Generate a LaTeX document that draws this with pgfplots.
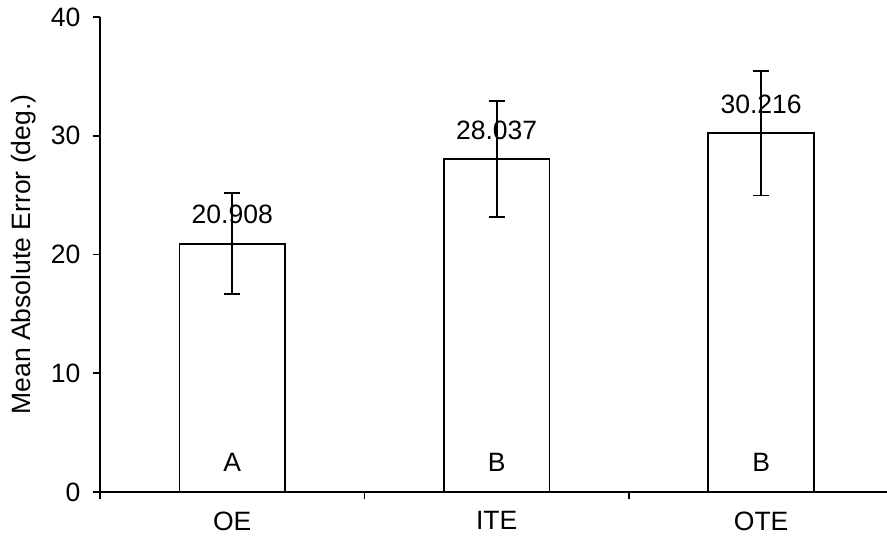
\documentclass[border=0pt]{standalone}
\usepackage{pgfplots}
\pgfplotsset{compat=1.18}
\usepackage{fontspec}
\setmainfont{Liberation Sans}
\begin{document}
\begin{tikzpicture}
\path[use as bounding box] (-75pt,-35.25pt) rectangle (590.25pt,369pt);
\begin{axis}[
  scale only axis,
  width=590.25pt, height=356.25pt,
  xmin=-0.5, xmax=2.476,
  ymin=0, ymax=40,
  axis lines=left,
  axis line style={-, line width=1.5pt, black},
  ytick={0,10,20,30,40},
  xtick={0,1,2},
  xticklabels={OE,ITE,OTE},
  minor xtick={-0.5,0.5,1.5},
  tick align=outside,
  major tick length=5.6pt,
  minor tick length=5.6pt,
  major x tick style={draw=none},
  minor x tick style={black, line width=1.2pt},
  ytick style={black, line width=1.2pt},
  /pgf/number format/assume math mode=true,
  tick label style={font=\fontsize{19.9pt}{24pt}\selectfont, inner sep=0pt},
  xticklabel style={anchor=north, yshift=-9pt},
  yticklabel style={anchor=east, xshift=-9pt},
  ylabel={Mean Absolute Error (deg.)},
  every axis y label/.style={at={(axis description cs:-0.097,0.5)}, anchor=center, rotate=90, font=\fontsize{19.9pt}{24pt}\selectfont},
  clip=false,
]
\addplot[ybar, bar width=0.4, bar shift=0pt, draw=black, fill=white, line width=1.2pt,
  point meta=explicit symbolic,
  nodes near coords,
  every node near coord/.append style={anchor=base, yshift=14.8pt, inner sep=0pt, font=\fontsize{19.9pt}{24pt}\selectfont, black},
  error bars/.cd, y dir=both, y explicit,
  error bar style={line width=1.3pt, black},
  error mark options={rotate=90, mark size=6pt, line width=1.3pt, black},
] table[x=x, y=y, y error=e, meta=l] {
x y e l
0 20.908 4.26 20.908
1 28.037 4.90 28.037
2 30.216 5.24 30.216
};
\node[anchor=base, inner sep=0pt, font=\fontsize{19.9pt}{24pt}\selectfont] at (axis cs:0,1.726) {A};
\node[anchor=base, inner sep=0pt, font=\fontsize{19.9pt}{24pt}\selectfont] at (axis cs:1,1.726) {B};
\node[anchor=base, inner sep=0pt, font=\fontsize{19.9pt}{24pt}\selectfont] at (axis cs:2,1.726) {B};
\end{axis}
\end{tikzpicture}
\end{document}
